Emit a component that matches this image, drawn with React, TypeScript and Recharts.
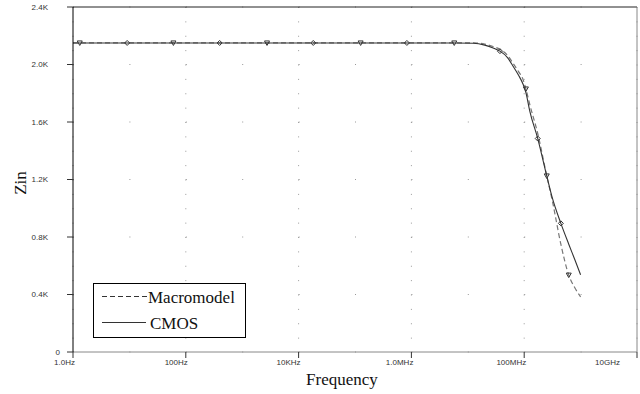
import React from 'react';
import { LineChart, Line, XAxis, YAxis, CartesianGrid, ReferenceLine, Legend, Label } from 'recharts';

const frequency = [1, 1.318, 9.12, 60.3, 398, 2754, 18197, 125893, 831764, 5.754e6, 1.259e7, 1.995e7, 2.818e7, 3.715e7, 5.012e7, 6.31e7, 7.943e7, 9.55e7, 1.072e8, 1.259e8, 1.738e8, 2.512e8, 3.162e8, 4.467e8, 6.166e8, 7.943e8, 1e9];
const macromodel = [2150, 2150, 2150, 2150, 2150, 2150, 2150, 2150, 2150, 2150, 2150, 2142, 2125, 2105, 2065, 2010, 1950, 1895, 1830, 1720, 1520, 1225, 1050, 750, 535, 445, 384];
const cmos = [2150, 2150, 2150, 2150, 2150, 2150, 2150, 2150, 2150, 2150, 2148, 2135, 2115, 2093, 2050, 1990, 1925, 1863, 1805, 1674, 1485, 1225, 1070, 895, 750, 640, 537];

const macromodelMarkers = [1.318, 60.3, 2754, 125893, 5.754e6, 1.072e8, 2.512e8, 6.166e8];
const cmosMarkers = [9.12, 398, 18197, 831764, 3.715e7, 1.738e8, 4.467e8];

const xTicks = [1, 100, 1e4, 1e6, 1e8, 1e10];
const xTickLabels = ['1.0Hz', '100Hz', '10KHz', '1.0MHz', '100MHz', '10GHz'];
const yTicks = [0, 400, 800, 1200, 1600, 2000, 2400];
const yTickLabels = ['0', '0.4K', '0.8K', '1.2K', '1.6K', '2.0K', '2.4K'];

const data = frequency.map((f, i) => ({ f, macromodel: macromodel[i], cmos: cmos[i] }));

const tickFont = '"Liberation Sans", Arial, sans-serif';
const serifFont = '"Liberation Serif", "Times New Roman", serif';

const nearestIndex = (arr: number[], v: number) => {
  let best = 0;
  let bestD = Infinity;
  arr.forEach((a, i) => {
    const d = Math.abs(Math.log10(Math.max(a, 1e-12)) - Math.log10(Math.max(v, 1e-12)));
    if (d < bestD) { bestD = d; best = i; }
  });
  return best;
};

const XTick = (props: any) => {
  const { x, y, payload } = props;
  const idx = nearestIndex(xTicks, payload.value);
  const dx = idx === xTicks.length - 1 ? -17 : 2;
  return (
    <text x={x + dx} y={y} dy="0.71em" textAnchor="end" fontSize={8} fontFamily={tickFont} fill="#333">
      {xTickLabels[idx]}
    </text>
  );
};

const YTick = (props: any) => {
  const { x, y, payload } = props;
  const idx = yTicks.indexOf(payload.value);
  const dx = payload.value === 0 ? 12 : 0;
  return (
    <text x={x + dx} y={y} dy="0.355em" textAnchor="end" fontSize={8} fontFamily={tickFont} fill="#333">
      {yTickLabels[idx]}
    </text>
  );
};

const MacroDot = (props: any) => {
  const { cx, cy, payload, index } = props;
  if (!macromodelMarkers.includes(payload.f)) return <g key={`md-${index}`} />;
  return (
    <path key={`md-${index}`} d={`M${cx - 2.5},${cy - 2} L${cx + 2.5},${cy - 2} L${cx},${cy + 2.5} Z`} fill="none" stroke="#333" strokeWidth={1} />
  );
};

const CmosDot = (props: any) => {
  const { cx, cy, payload, index } = props;
  if (!cmosMarkers.includes(payload.f)) return <g key={`cd-${index}`} />;
  return (
    <path key={`cd-${index}`} d={`M${cx},${cy - 2.5} L${cx + 2.5},${cy} L${cx},${cy + 2.5} L${cx - 2.5},${cy} Z`} fill="none" stroke="#333" strokeWidth={1} />
  );
};

const LegendBox = () => (
  <svg width={154} height={56} style={{ display: 'block' }}>
    <rect x={0.5} y={0.5} width={152} height={54} fill="#fff" stroke="#000" strokeWidth={1} />
    <line x1={9} y1={13.5} x2={54} y2={13.5} stroke="#333" strokeWidth={1} strokeDasharray="5 3" />
    <text x={55} y={20} fontSize={17} fontFamily={serifFont} fill="#111">Macromodel</text>
    <line x1={9} y1={39.5} x2={53} y2={39.5} stroke="#333" strokeWidth={1} />
    <text x={57} y={46} fontSize={17} fontFamily={serifFont} fill="#111">CMOS</text>
  </svg>
);

export default function App() {
  return (
    <div style={{ position: 'absolute', left: 0, top: 0, background: '#fff' }}>
      <LineChart width={640} height={394} data={data} margin={{ top: 7, right: 3, bottom: 0, left: 0 }}>
        <CartesianGrid vertical={false} stroke="#999" strokeDasharray="1 55.4" />
        <CartesianGrid horizontal={false} stroke="#999" strokeDasharray="1 13.375" />
        <XAxis
          dataKey="f"
          type="number"
          scale="log"
          domain={[1, 1e10]}
          ticks={xTicks}
          interval={0}
          allowDataOverflow
          height={42}
          tickSize={6}
          tickMargin={1}
          tick={<XTick />}
          axisLine={{ stroke: '#888' }}
          tickLine={{ stroke: '#333' }}
        >
          <Label
            content={() => (
              <text x={342} y={385} textAnchor="middle" fontSize={17} fontFamily={serifFont} fill="#111">Frequency</text>
            )}
          />
        </XAxis>
        <YAxis
          type="number"
          domain={[0, 2400]}
          ticks={yTicks}
          interval={0}
          width={73}
          tickSize={6}
          tickMargin={19}
          tick={<YTick />}
          axisLine={{ stroke: '#000' }}
          tickLine={{ stroke: '#333' }}
        >
          <Label
            content={() => (
              <text x={26} y={183} transform="rotate(-90, 26, 183)" textAnchor="middle" fontSize={17} fontFamily={serifFont} fill="#111">Zin</text>
            )}
          />
        </YAxis>
        <ReferenceLine y={2400} stroke="#222" />
        <ReferenceLine x={1e10} stroke="#888" />
        <Line
          type="monotone"
          dataKey="macromodel"
          stroke="#777"
          strokeWidth={1.2}
          strokeDasharray="5 3"
          dot={<MacroDot />}
          activeDot={false}
          isAnimationActive={false}
        />
        <Line
          type="monotone"
          dataKey="cmos"
          stroke="#333"
          strokeWidth={1.1}
          dot={<CmosDot />}
          activeDot={false}
          isAnimationActive={false}
        />
        <Legend
          layout="vertical"
          align="center"
          verticalAlign="middle"
          content={() => <LegendBox />}
          wrapperStyle={{ position: 'absolute', left: 93, top: 283, width: 154, height: 56 }}
        />
      </LineChart>
    </div>
  );
}
